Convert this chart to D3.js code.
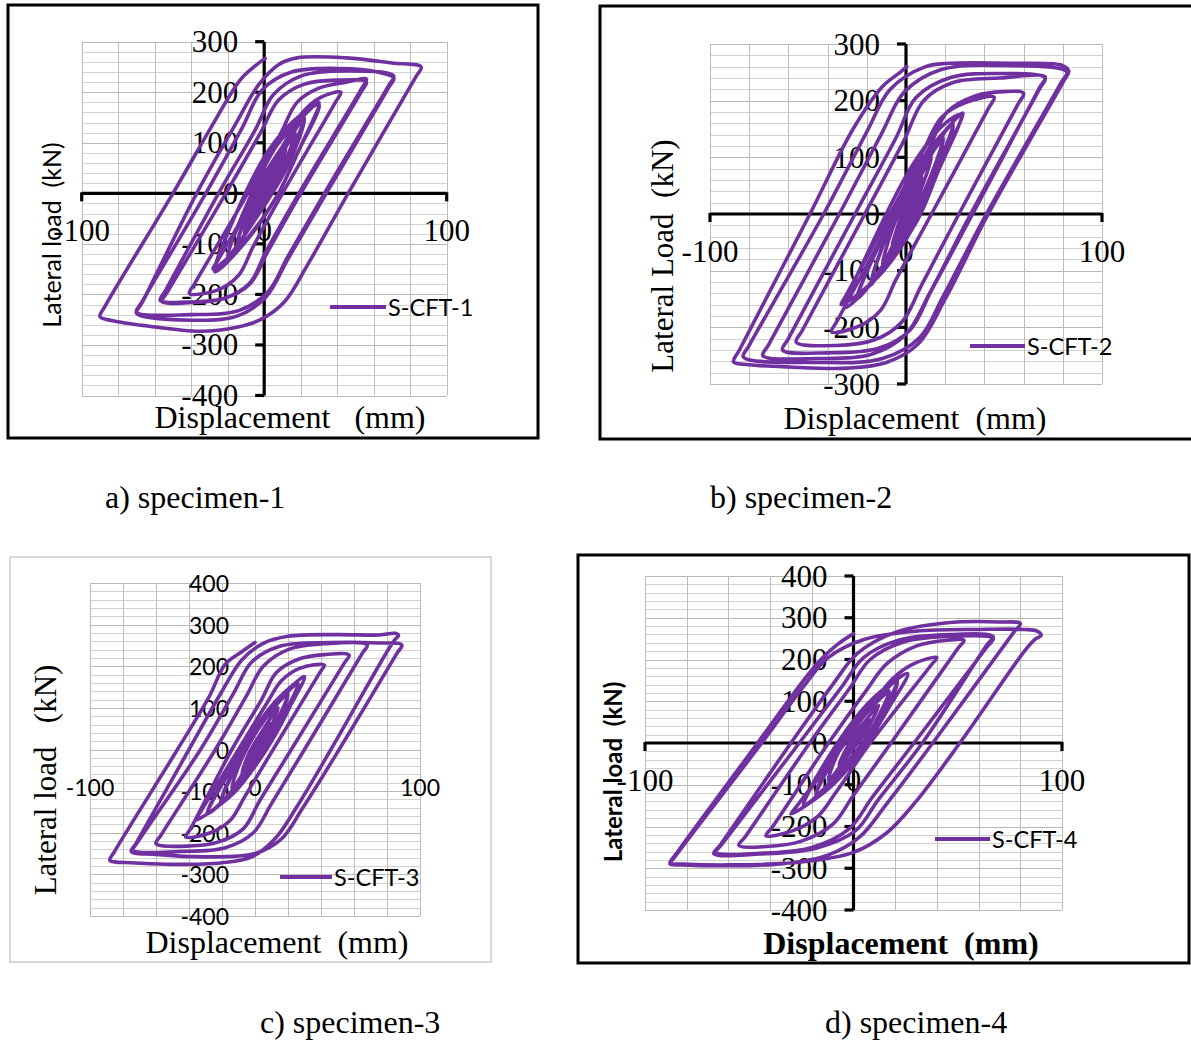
<!DOCTYPE html>
<html>
<head>
<meta charset="utf-8">
<script src="https://cdn.jsdelivr.net/npm/d3@7"></script>
<style>
  body { margin: 0; background: #fff; }
  svg text { white-space: pre; }
</style>
</head>
<body>
<svg id="fig" width="1191" height="1040"></svg>
<script>
// ---- Axis ticks and labels ----
const dispTicks = [-100, 0, 100];
const loadTicks1 = [300, 200, 100, 0, -100, -200, -300, -400];
const loadTicks2 = [300, 200, 100, 0, -100, -200, -300];
const loadTicks34 = [400, 300, 200, 100, 0, -100, -200, -300, -400];
const seriesNames = ["S-CFT-1", "S-CFT-2", "S-CFT-3", "S-CFT-4"];
const captions = ["a) specimen-1", "b) specimen-2", "c) specimen-3", "d) specimen-4"];

// ---- Hysteresis records: each cycle is a list of [displacement mm, lateral load kN] ----
const s1Loops = [
  [[0,0],[4,30],[8,60],[3,15],[-2,-12],[-7,-50]],
  [[-7,-50],[-3,-10],[5,40],[12,90],[6,30],[-2,-18],[-11,-80]],
  [[-11,-80],[-5,-15],[7,62],[17,120],[9,42],[-3,-35],[-15,-105]],
  [[-15,-105],[-7,-20],[8,70],[17,118],[9,38],[-4,-40],[-15,-105]],
  [[-15,-105],[-8,-25],[9,80],[22,150],[12,60],[-4,-45],[-20,-125]],
  [[-20,-125],[-10,-30],[8,82],[22,148],[13,55],[-5,-52],[-20,-125]],
  [[-20,-125],[-11,-35],[7,95],[22,155],[30,180],[19,85],[7,-5],[-10,-95],[-27,-155]],
  [[-27,-155],[-16,-45],[3,88],[20,155],[30,175],[18,78],[7,-5],[-12,-100],[-28,-150]],
  [[-28,-150],[-25,-130],[-4,0],[12,105],[21,160],[31,190],[42,200],[39,180],[10,0],[-6,-105],[-14,-162],[-26,-192],[-41,-198]],
  [[-41,-198],[-38,-178],[-9,0],[9,118],[18,180],[30,208],[45,220],[56,226],[53,205],[19,0],[1,-115],[-8,-178],[-22,-208],[-40,-216],[-56,-214]],
  [[-56,-214],[-53,-195],[-21,0],[-2,120],[8,185],[22,216],[40,224],[56,220],[53,200],[20,0],[2,-115],[-8,-180],[-22,-208],[-42,-215],[-57,-212]],
  [[-57,-212],[-54,-192],[-25,0],[-5,125],[5,195],[20,232],[45,242],[71,232],[68,212],[33,0],[13,-125],[2,-195],[-14,-232],[-40,-240],[-70,-235]],
  [[-70,-235],[-67,-215],[-32,0],[-12,130],[-1,205],[15,240],[42,247],[62,240],[71,228],[68,208],[34,0],[13,-130],[1,-205],[-15,-243],[-40,-251],[-70,-237]],
  [[-70,-237],[-67,-217],[-37,0],[-16,135],[-3,215],[8,255],[18,268],[45,268],[70,258],[86,250],[83,230],[46,0],[24,-140],[11,-215],[-2,-250],[-15,-265],[-35,-273],[-65,-262],[-83,-252],[-90,-244]],
  [[-90,-244],[-87,-222],[-50,0],[-30,125],[-13,225],[-5,252],[0.5,267]]
];

const s2Loops = [
  [[0,0],[4,35],[8,65],[3,20],[-2,-15],[-7,-55]],
  [[-7,-55],[-3,-10],[5,50],[13,100],[6,30],[-2,-22],[-12,-90]],
  [[-12,-90],[-6,-18],[7,70],[19,135],[10,45],[-3,-38],[-18,-125]],
  [[-18,-125],[-8,-24],[8,80],[19,132],[10,42],[-4,-42],[-18,-125]],
  [[-18,-125],[-9,-30],[10,95],[24,160],[13,60],[-5,-55],[-25,-150]],
  [[-25,-150],[-11,-35],[10,100],[24,158],[14,58],[-5,-60],[-25,-150]],
  [[-25,-150],[-12,-40],[9,100],[22,155],[29,178],[18,90],[6,-10],[-12,-100],[-31,-165]],
  [[-31,-165],[-17,-50],[4,90],[20,160],[28,175],[17,80],[5,-15],[-14,-110],[-33,-160]],
  [[-33,-160],[-30,-140],[-8,0],[9,113],[18,170],[30,196],[45,206],[42,186],[13,0],[-5,-115],[-13,-170],[-24,-198],[-38,-208]],
  [[-38,-208],[-35,-188],[-6,0],[12,118],[21,180],[35,208],[50,216],[60,213],[57,193],[27,0],[8,-125],[-2,-190],[-16,-222],[-36,-232],[-56,-226]],
  [[-56,-226],[-53,-206],[-21,0],[-1,130],[9,200],[24,232],[48,240],[71,242],[68,222],[34,0],[13,-135],[2,-205],[-14,-237],[-40,-245],[-63,-240]],
  [[-63,-240],[-60,-220],[-26,0],[-5,135],[5,205],[22,240],[48,248],[71,240],[68,220],[33,0],[12,-140],[0,-212],[-18,-248],[-45,-255],[-73,-250]],
  [[-73,-250],[-70,-230],[-34,0],[-12,145],[-1,215],[18,255],[50,262],[82,251],[79,231],[41,0],[19,-145],[7,-218],[-12,-255],[-45,-262],[-83,-252]],
  [[-83,-252],[-80,-232],[-42,0],[-20,145],[-8,220],[10,260],[22,266],[55,266],[80,262],[83,252],[80,232],[42,0],[20,-150],[6,-230],[-10,-262],[-30,-272],[-60,-270],[-80,-266],[-88,-261]],
  [[-88,-261],[-85,-240],[-49,0],[-27,150],[-12,225],[-3,250],[0.4,260]]
];

const s3Loops = [
  [[0,0],[4,30],[9,62],[4,22],[-2,-14],[-8,-58]],
  [[-8,-58],[-4,-12],[5,48],[14,100],[7,32],[-2,-24],[-14,-95]],
  [[-14,-95],[-8,-22],[6,72],[20,135],[11,50],[-3,-40],[-21,-130]],
  [[-21,-130],[-10,-30],[7,80],[20,132],[11,46],[-3,-45],[-21,-130]],
  [[-21,-130],[-11,-35],[8,90],[26,160],[15,65],[-4,-55],[-29,-155]],
  [[-29,-155],[-13,-38],[10,95],[26,158],[16,62],[-4,-60],[-29,-155]],
  [[-29,-155],[-14,-40],[9,100],[23,155],[30,175],[20,95],[6,-5],[-13,-105],[-36,-170]],
  [[-36,-170],[-33,-150],[-10,0],[7,110],[16,165],[27,195],[42,203],[39,183],[11,0],[-6,-112],[-15,-170],[-27,-200],[-42,-210]],
  [[-42,-210],[-39,-190],[-14,0],[4,120],[13,185],[27,218],[42,228],[57,227],[54,207],[22,0],[3,-122],[-7,-190],[-22,-222],[-40,-232],[-60,-226]],
  [[-60,-226],[-57,-206],[-24,0],[-5,130],[5,200],[20,240],[42,254],[68,251],[65,231],[30,0],[10,-130],[-1,-200],[-18,-236],[-45,-245],[-74,-242]],
  [[-74,-242],[-71,-222],[-33,0],[-13,135],[-2,210],[15,248],[45,257],[75,256],[89,251],[86,231],[51,0],[29,-140],[16,-215],[0,-250],[-30,-258],[-60,-252],[-75,-245]],
  [[-75,-245],[-72,-225],[-40,0],[-20,140],[-8,215],[5,255],[20,272],[50,276],[75,275],[81,278],[85,279],[87,274],[85,265],[80,235],[46,0],[25,-140],[12,-215],[-2,-258],[-20,-272],[-50,-276],[-75,-272],[-85,-270],[-88,-266]],
  [[-88,-266],[-85,-244],[-47,0],[-28,125],[-18,205],[-8,235],[0,257]]
];

const s4Loops = [
  [[0,0],[4,28],[8,55],[3,16],[-2,-14],[-7,-52]],
  [[-7,-52],[-3,-10],[5,48],[12,90],[6,28],[-2,-25],[-12,-90]],
  [[-12,-90],[-7,-20],[6,70],[17,125],[10,45],[-2,-42],[-18,-125]],
  [[-18,-125],[-8,-26],[7,76],[17,122],[10,42],[-3,-46],[-18,-125]],
  [[-18,-125],[-10,-32],[8,88],[21,150],[12,58],[-4,-58],[-24,-150]],
  [[-24,-150],[-12,-38],[8,92],[21,148],[13,55],[-4,-62],[-24,-150]],
  [[-24,-150],[-13,-42],[7,95],[20,150],[26,166],[17,85],[5,-12],[-11,-105],[-30,-170]],
  [[-30,-170],[-27,-150],[-4,0],[10,100],[19,155],[29,190],[40,205],[37,185],[8,0],[-8,-115],[-17,-175],[-29,-210],[-42,-222]],
  [[-42,-222],[-39,-202],[-12,0],[6,125],[16,190],[30,232],[45,246],[53,246],[50,226],[18,0],[0,-125],[-10,-195],[-25,-235],[-42,-248],[-55,-245]],
  [[-55,-245],[-52,-225],[-21,0],[-2,130],[8,200],[24,242],[48,256],[67,250],[64,230],[29,0],[9,-130],[-2,-205],[-20,-250],[-45,-264],[-66,-262]],
  [[-66,-262],[-63,-242],[-26,0],[-6,132],[5,205],[22,247],[47,260],[67,255],[64,235],[33,0],[12,-135],[1,-210],[-18,-252],[-45,-266],[-67,-265]],
  [[-67,-265],[-64,-245],[-30,0],[-10,140],[2,215],[20,265],[45,288],[70,290],[80,286],[77,266],[38,0],[16,-145],[3,-225],[-12,-268],[-35,-290],[-65,-294],[-82,-292],[-88,-290]],
  [[-88,-290],[-85,-268],[-44,0],[-24,135],[-12,205],[5,248],[30,268],[60,272],[82,272],[88,268],[90,258],[87,248],[82,220],[51,0],[30,-140],[16,-215],[0,-262],[-25,-285],[-60,-292],[-82,-290],[-88,-288]],
  [[-88,-288],[-85,-265],[-46,0],[-27,130],[-16,198],[-8,235],[0,262]]
];

// ---- Drawing ----
const SERIF = "'Liberation Serif', 'Times New Roman', serif";
const SANS = "Lato, 'Liberation Sans', sans-serif";
const PURPLE = "#7030A0";

const panels = [
  { loops: s1Loops, ticks: loadTicks1, name: seriesNames[0], caption: captions[0],
    frame: [8, 5, 530, 433], frameColor: "#000", frameWidth: 3,
    px: [81.7, 446.7], py: [395.5, 41.7], yDom: [-400, 300], axes: true,
    tickFont: SERIF, tickSize: 31,
    yTitle: "Lateral load  (kN)", yTitleFont: SANS, yTitleSize: 25, yTitleWeight: 400, yTitlePos: [51, 235],
    xTitle: "Displacement   (mm)", xTitleWeight: 400, xTitlePos: [290, 417],
    legend: [330, 386, 307], capPos: [105, 497] },
  { loops: s2Loops, ticks: loadTicks2, name: seriesNames[1], caption: captions[1],
    frame: [600, 6, 640, 433], frameColor: "#000", frameWidth: 3,
    px: [710, 1102], py: [384, 44], yDom: [-300, 300], axes: true,
    tickFont: SERIF, tickSize: 31,
    yTitle: "Lateral Load  (kN)", yTitleFont: SERIF, yTitleSize: 31, yTitleWeight: 400, yTitlePos: [662, 256],
    xTitle: "Displacement  (mm)", xTitleWeight: 400, xTitlePos: [915, 418],
    legend: [970, 1025, 346], capPos: [710, 497] },
  { loops: s3Loops, ticks: loadTicks34, name: seriesNames[2], caption: captions[2],
    frame: [10, 557, 481, 405], frameColor: "#c4c4c4", frameWidth: 1.3,
    px: [90, 420], py: [916, 583], yDom: [-400, 400], axes: false,
    tickFont: SANS, tickSize: 23,
    yTitle: "Lateral load   (kN)", yTitleFont: SERIF, yTitleSize: 31, yTitleWeight: 400, yTitlePos: [45, 780],
    xTitle: "Displacement  (mm)", xTitleWeight: 400, xTitlePos: [277, 942],
    legend: [280, 332, 877], capPos: [260, 1022] },
  { loops: s4Loops, ticks: loadTicks34, name: seriesNames[3], caption: captions[3],
    frame: [578, 555, 611, 408], frameColor: "#000", frameWidth: 3,
    px: [645, 1062], py: [910, 576], yDom: [-400, 400], axes: true,
    tickFont: SERIF, tickSize: 31,
    yTitle: "Lateral load  (kN)", yTitleFont: SANS, yTitleSize: 24, yTitleWeight: 700, yTitlePos: [612, 772],
    xTitle: "Displacement  (mm)", xTitleWeight: 700, xTitlePos: [901, 943],
    legend: [935, 990, 839], capPos: [825, 1022] }
];

const svg = d3.select("#fig");
svg.append("rect").attr("width", 1191).attr("height", 1040).attr("fill", "#fff");

panels.forEach(p => {
  const g = svg.append("g");
  const x = d3.scaleLinear().domain([-100, 100]).range(p.px);
  const y = d3.scaleLinear().domain(p.yDom).range(p.py);

  // frame
  g.append("rect")
    .attr("x", p.frame[0]).attr("y", p.frame[1])
    .attr("width", p.frame[2]).attr("height", p.frame[3])
    .attr("fill", "none").attr("stroke", p.frameColor).attr("stroke-width", p.frameWidth);

  // gridlines: horizontal every 20 kN, vertical every 20 mm
  const hLines = d3.range(p.yDom[0], p.yDom[1] + 1, 20);
  g.append("g").selectAll("line").data(hLines).join("line")
    .attr("x1", x(-100)).attr("x2", x(100))
    .attr("y1", d => Math.round(y(d)) + 0.5).attr("y2", d => Math.round(y(d)) + 0.5)
    .attr("stroke", d => d % 100 === 0 ? "#b8b8b8" : "#d2d2d2").attr("stroke-width", 1);
  const vLines = d3.range(-100, 101, 20);
  g.append("g").selectAll("line").data(vLines).join("line")
    .attr("x1", d => Math.round(x(d)) + 0.5).attr("x2", d => Math.round(x(d)) + 0.5)
    .attr("y1", y(p.yDom[0])).attr("y2", y(p.yDom[1]))
    .attr("stroke", "#bcbcbc").attr("stroke-width", 1);

  // main axes through the origin
  if (p.axes) {
    const ax = g.append("g").attr("stroke", "#000").attr("stroke-width", 3.2);
    ax.append("line").attr("x1", x(-100)).attr("x2", x(100)).attr("y1", y(0)).attr("y2", y(0));
    ax.append("line").attr("x1", x(0)).attr("x2", x(0)).attr("y1", y(p.yDom[0])).attr("y2", y(p.yDom[1]));
    ax.selectAll(".xt").data([-100, 100]).join("line")
      .attr("x1", d => x(d)).attr("x2", d => x(d)).attr("y1", y(0) - 1).attr("y2", y(0) + 8);
    ax.selectAll(".yt").data(p.ticks).join("line")
      .attr("x1", x(0) - 9).attr("x2", x(0)).attr("y1", d => y(d)).attr("y2", d => y(d));
  }

  // tick labels
  g.append("g").selectAll("text").data(p.ticks).join("text")
    .attr("x", x(0) - 26).attr("y", d => y(d))
    .attr("text-anchor", "end").attr("dominant-baseline", "central")
    .attr("font-family", p.tickFont).attr("font-size", p.tickSize).attr("fill", "#000")
    .text(d => d);
  g.append("g").selectAll("text").data(dispTicks).join("text")
    .attr("x", d => x(d)).attr("y", y(0) + 37)
    .attr("text-anchor", "middle").attr("dominant-baseline", "central")
    .attr("font-family", p.tickFont).attr("font-size", p.tickSize).attr("fill", "#000")
    .text(d => d);

  // axis titles
  g.append("text")
    .attr("transform", `translate(${p.yTitlePos[0]},${p.yTitlePos[1]}) rotate(-90)`)
    .attr("text-anchor", "middle").attr("dominant-baseline", "central")
    .attr("font-family", p.yTitleFont).attr("font-size", p.yTitleSize).attr("font-weight", p.yTitleWeight)
    .text(p.yTitle);
  g.append("text")
    .attr("x", p.xTitlePos[0]).attr("y", p.xTitlePos[1])
    .attr("text-anchor", "middle").attr("dominant-baseline", "central")
    .attr("font-family", SERIF).attr("font-size", 32).attr("font-weight", p.xTitleWeight)
    .text(p.xTitle);

  // hysteresis curve
  const pts = [];
  p.loops.forEach((cyc, i) => cyc.forEach((pt, j) => { if (i === 0 || j > 0) pts.push(pt); }));
  const line = d3.line().x(d => x(d[0])).y(d => y(d[1])).curve(d3.curveCatmullRom.alpha(0.5));
  g.append("path").datum(pts).attr("d", line)
    .attr("fill", "none").attr("stroke", PURPLE).attr("stroke-width", 3.6)
    .attr("stroke-linejoin", "round").attr("stroke-linecap", "round");

  // legend
  g.append("line").attr("x1", p.legend[0]).attr("x2", p.legend[1])
    .attr("y1", p.legend[2]).attr("y2", p.legend[2])
    .attr("stroke", PURPLE).attr("stroke-width", 4);
  g.append("text").attr("x", p.legend[1] + 2).attr("y", p.legend[2])
    .attr("dominant-baseline", "central")
    .attr("font-family", SANS).attr("font-size", 23.5).text(p.name);

  // caption
  svg.append("text").attr("x", p.capPos[0]).attr("y", p.capPos[1])
    .attr("dominant-baseline", "central")
    .attr("font-family", SERIF).attr("font-size", 32).text(p.caption);
});
</script>
</body>
</html>
